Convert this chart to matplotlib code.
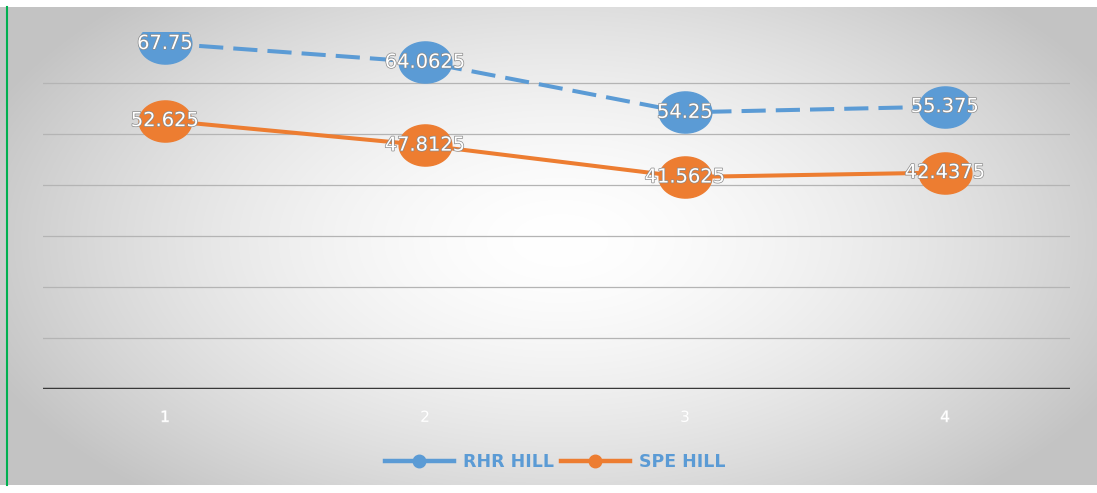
import numpy as np
import matplotlib
matplotlib.use("Agg")
import matplotlib.pyplot as plt
import matplotlib.patheffects as pe
from matplotlib.path import Path
from matplotlib.lines import Line2D

categories = [1, 2, 3, 4]
tick_labels = ["1", "2", "3", "4"]
rhr_hill = [67.75, 64.0625, 54.25, 55.375]
spe_hill = [52.625, 47.8125, 41.5625, 42.4375]
series_names = ["RHR HILL", "SPE HILL"]

BLUE = "#5B9BD5"
ORANGE = "#ED7D31"

W, H = 1097, 493
fig = plt.figure(figsize=(W / 100, H / 100), dpi=100)

# radial grey-to-white backdrop, framed by thin white strips
bg = fig.add_axes([0, 0, 1, 1], zorder=0)
yy, xx = np.mgrid[0:H, 0:W]
d = np.sqrt(((xx - 560) / 620.0) ** 2 + ((yy - 240) / 340.0) ** 2)
shade = 255 - 60 * np.clip(d, 0, 1) ** 1.6
shade[:7, :] = 255
shade[485:, :] = 255
img = np.dstack([shade, shade, shade]).astype(np.uint8)
bg.imshow(img, extent=(0, W, H, 0), aspect="auto", interpolation="bilinear")
bg.plot([6.5, 6.5], [7, 485], color="#00B050", lw=1.5)
bg.set_xlim(0, W)
bg.set_ylim(H, 0)
bg.axis("off")

# plot area in pixels
left, right, top, bottom = 43, 1070, 32, 389
ax = fig.add_axes([left / W, 1 - bottom / H, (right - left) / W, (bottom - top) / H], zorder=1)
ax.patch.set_alpha(0)
ax.set_xlim(1 - 122 / 260, 4 + 125 / 260)
ax.set_ylim(0, 70)

for v in range(10, 70, 10):
    ax.axhline(v, color="#b4b4b4", lw=0.9, zorder=1)
ax.axhline(0, color="#383838", lw=2.5, zorder=2)

for s in ax.spines.values():
    s.set_visible(False)
ax.set_yticks([])
ax.set_xticks(categories)
ax.set_xticklabels(tick_labels, color="white", fontsize=11,
                   path_effects=[pe.withStroke(linewidth=0.8, foreground="#e6e6e6")])
ax.tick_params(axis="x", length=0, pad=15)

# wide elliptical marker
t = np.linspace(0, 2 * np.pi, 60)
ellipse = Path(np.column_stack([np.cos(t), 0.78 * np.sin(t)]), closed=True)

ax.plot(categories, rhr_hill, color=BLUE, lw=2.9, dashes=(6, 2.5),
        marker=ellipse, markersize=38, markerfacecolor=BLUE, markeredgecolor=BLUE,
        zorder=3)
ax.plot(categories, spe_hill, color=ORANGE, lw=2.9,
        marker=ellipse, markersize=38, markerfacecolor=ORANGE, markeredgecolor=ORANGE,
        zorder=3)

label_fx = [pe.withStroke(linewidth=1.0, foreground="#8a8a8a")]
for vals in (rhr_hill, spe_hill):
    for x, v in zip(categories, vals):
        ax.text(x, v, f"{v:g}", color="white", fontsize=14, ha="center",
                va="center", zorder=4, path_effects=label_fx)

handles = [
    Line2D([], [], color=BLUE, lw=3.2, marker="o", markersize=9),
    Line2D([], [], color=ORANGE, lw=3.2, marker="o", markersize=9),
]
leg = fig.legend(handles, series_names, loc="center",
                 bbox_to_anchor=(555 / W, 1 - 462 / H), ncol=2, frameon=False,
                 handlelength=4.0, handletextpad=0.5, columnspacing=0.4,
                 prop={"weight": "bold", "size": 12.5})
for txt in leg.get_texts():
    txt.set_color(BLUE)

fig.savefig("out.png", dpi=100)
